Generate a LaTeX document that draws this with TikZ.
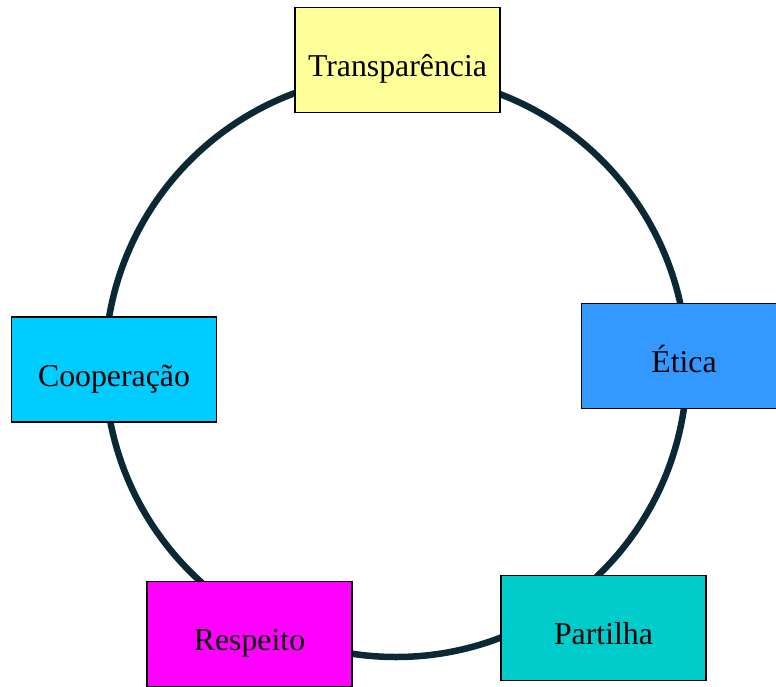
\documentclass[tikz,border=0pt]{standalone}
\usepackage{fontspec}
\setmainfont{Liberation Serif}
\begin{document}
\begin{tikzpicture}[x=1pt,y=-1pt,
  box/.style={draw=black, line width=1.6pt, minimum width=205pt, minimum height=105pt, inner sep=0pt, text height=40pt, text depth=7pt, font=\fontsize{31.8}{38}\selectfont, text=black},
  ring/.style={draw=ringc, line width=6.5pt}]
\definecolor{ringc}{HTML}{0B2835}
\definecolor{cyel}{HTML}{FFFF99}
\definecolor{cblue}{HTML}{3399FF}
\definecolor{cteal}{HTML}{00CCCC}
\definecolor{cmag}{HTML}{FF00FF}
\definecolor{ccyan}{HTML}{00CCFF}
\useasboundingbox (0,0) rectangle (776,687);
\clip (0,0) rectangle (776,687);
\coordinate (c) at (396,366);
\draw[ring] (c) circle[radius=291];
\node[box, fill=cyel] (t) at (397.5,60) {Transparência};
\node[box, fill=cblue] (e) at (684,356) {Ética};
\node[box, fill=cteal] (p) at (603.5,628) {Partilha};
\node[box, fill=cmag] (r) at (249.5,634) {Respeito};
\node[box, fill=ccyan] (co) at (114,369.5) {Cooperação};
\end{tikzpicture}
\end{document}
